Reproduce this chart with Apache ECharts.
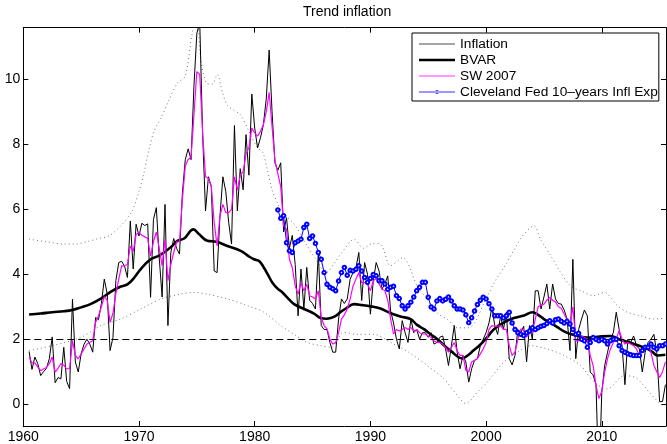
<!DOCTYPE html>
<html>
<head>
<meta charset="utf-8">
<script src="https://cdn.jsdelivr.net/npm/echarts@6/dist/echarts.min.js"></script>
<style>
html,body{margin:0;padding:0;background:#fff;}
#chart{width:667px;height:444px;}
</style>
</head>
<body>
<div id="chart"></div>
<script>
// ---- Data (quarterly series; first observation date given separately) ----
const inflationStart = 1960.5;
const inflation = [
 1.62, 1.07,
 1.45, 1.25, 0.88, 1.0,
 1.1, 1.4, 2.07, 0.66,
 0.82, 0.78, 1.75, 0.7,
 0.48, 3.23, 1.3, 0.99,
 1.55, 1.85, 2.0, 1.85,
 1.6, 2.67, 2.6, 3.1,
 3.85, 3.4, 1.65, 2.05,
 3.8, 4.36, 4.4, 4.25,
 3.9, 5.64, 4.16, 5.54,
 5.18, 5.57, 5.5, 5.55,
 3.29, 5.69, 6.05, 4.5,
 3.3, 6.15, 2.42, 4.67,
 5.1, 4.8, 4.62, 6.5,
 7.53, 7.86, 7.53, 9.8,
 11.42, 11.75, 8.3, 5.95,
 7.0, 6.7, 4.1, 4.05,
 5.8, 7.0, 6.55, 5.6,
 4.93, 8.58, 5.95, 7.25,
 6.6, 8.3, 7.05, 9.55,
 8.5, 7.89, 8.2, 8.6,
 9.4, 10.9, 9.0, 7.43,
 7.2, 7.43, 5.3, 5.74,
 4.8, 5.2, 4.3, 2.72,
 4.16, 2.93, 4.21, 3.2,
 3.1, 2.93, 4.67, 2.42,
 2.3, 2.3, 1.9, 1.6,
 1.6, 2.62, 3.24, 3.1,
 3.24, 3.85, 4.05, 4.2,
 4.67, 3.19, 4.36, 4.0,
 2.77, 3.8, 4.36, 4.1,
 3.54, 3.7, 3.95, 2.87,
 2.5, 2.0, 1.7, 2.57,
 2.2, 1.9, 2.62, 2.2,
 2.3, 2.0, 2.2, 2.2,
 2.06, 2.2, 1.85, 1.9,
 2.06, 2.1, 1.7, 1.19,
 1.8, 2.42, 1.6, 1.09,
 1.5, 1.3, 0.68, 1.09,
 1.35, 1.4, 1.8, 2.0,
 2.2, 2.5, 2.97, 2.42,
 2.15, 2.72, 2.3, 2.83,
 1.4, 1.21, 1.5, 2.3,
 2.2, 2.4, 1.3, 2.42,
 2.0, 3.49, 3.49, 2.93,
 3.3, 3.7, 2.93, 3.7,
 3.24, 3.1, 3.08, 2.9,
 2.62, 1.65, 4.46, 1.4,
 2.3, 2.62, 2.9, 2.72,
 0.99, 0.9, 0.6, -2.5,
 0.37, 1.19, 1.6, 2.0,
 2.2, 2.83, 2.3, 1.8,
 0.6, 2.0, 1.9, 2.1,
 1.8, 1.7, 0.99, 1.6,
 1.9, 2.0, 2.15, 1.6,
 0.08, 0.08, 0.6
];

const sw2007Start = 1960.5;
const sw2007 = [
 1.45, 1.27,
 1.27, 1.15, 1.03, 1.08,
 1.13, 1.25, 1.45, 0.99,
 1.1, 1.25, 1.2, 1.09,
 1.09, 1.95, 1.5, 1.39,
 1.55, 1.7, 1.85, 1.9,
 1.95, 2.52, 2.72, 3.0,
 3.31, 3.2, 2.52, 2.8,
 3.4, 3.85, 4.26, 4.26,
 4.3, 4.87, 4.7, 5.23,
 5.28, 5.2, 5.15, 5.1,
 4.56, 5.0, 5.3, 4.8,
 4.26, 5.08, 3.8, 4.3,
 4.67, 5.0, 5.0, 6.3,
 7.33, 7.53, 7.6, 8.9,
 10.24, 10.15, 8.35, 7.0,
 6.95, 6.7, 5.59, 4.87,
 5.8, 6.15, 5.9, 5.9,
 6.0, 7.0, 6.6, 7.05,
 7.15, 7.7, 7.9, 8.5,
 8.35, 8.25, 8.4, 8.6,
 9.0, 9.6, 8.55, 7.5,
 7.1, 6.7, 5.5, 5.38,
 4.46, 4.2, 3.64, 3.39,
 3.74, 3.49, 3.69, 3.34,
 3.3, 3.24, 3.49, 2.67,
 2.42, 2.32, 2.0, 1.85,
 1.9, 2.2, 2.62, 2.75,
 2.93, 3.24, 3.64, 3.85,
 4.05, 3.74, 3.74, 3.7,
 3.49, 3.8, 3.87, 3.7,
 3.54, 3.5, 3.2, 2.62,
 2.16, 2.3, 2.25, 2.3,
 2.36, 2.3, 2.36, 2.25,
 2.3, 2.2, 2.16, 2.16,
 2.1, 2.06, 1.95, 1.9,
 1.9, 1.85, 1.75, 1.6,
 1.75, 1.9, 1.65, 1.5,
 1.5, 1.04, 0.99, 1.3,
 1.35, 1.4, 1.55, 1.7,
 1.9, 2.3, 2.42, 2.4,
 2.4, 2.42, 2.3, 2.3,
 1.8, 1.5, 1.6, 2.0,
 2.32, 2.27, 2.06, 2.2,
 2.2, 2.62, 3.0, 3.05,
 3.08, 3.2, 3.29, 3.2,
 3.15, 3.0, 2.95, 2.77,
 2.6, 2.4, 3.0, 1.95,
 1.95, 2.1, 2.05, 2.0,
 1.5, 1.19, 0.58, 0.17,
 0.4, 0.99, 1.4, 1.7,
 1.9, 2.0, 2.27, 2.0,
 1.85, 1.9, 1.85, 1.8,
 1.7, 1.5, 1.65, 1.7,
 1.8, 1.6, 1.2, 1.0,
 0.82, 1.0, 1.3
];

const clevelandStart = 1982.0;
const cleveland = [
 5.98, 5.72, 5.8, 4.97,
 4.72, 4.67, 4.97, 5.02,
 5.08, 5.44, 5.54, 5.1,
 5.18, 4.95, 4.67, 4.46,
 4.05, 3.69, 3.6, 3.55,
 3.49, 3.79, 4.05, 4.21,
 3.97, 4.12, 4.1, 4.15,
 4.26, 4.1, 3.9, 3.75,
 3.87, 3.99, 3.95, 3.8,
 3.8, 3.7, 3.54, 3.6,
 3.63, 3.34, 3.25, 3.03,
 2.93, 3.03, 3.14, 3.3,
 3.49, 3.6, 3.75, 3.75,
 3.29, 2.99, 2.93, 3.18,
 3.25, 3.18, 3.23, 3.3,
 3.18, 3.03, 2.93, 2.93,
 2.9, 2.75, 2.51, 2.66,
 2.87, 3.07, 3.2, 3.29,
 3.24, 3.09, 2.93, 2.72,
 2.72, 2.72, 2.65, 2.72,
 2.83, 2.5, 2.3, 2.2,
 2.15, 2.11, 2.2, 2.25,
 2.35, 2.3, 2.35, 2.4,
 2.42, 2.48, 2.57, 2.5,
 2.6, 2.62, 2.55, 2.5,
 2.55, 2.47, 2.3, 2.15,
 2.18, 2.0, 1.95, 1.75,
 1.9, 2.05, 2.0, 1.95,
 2.0, 1.95, 1.85, 1.95,
 2.0, 2.0, 1.8, 1.65,
 1.6, 1.55, 1.52, 1.5,
 1.5, 1.5, 1.65, 1.75,
 1.75, 1.85, 1.75, 1.7,
 1.8, 1.8, 1.85
];

const bvarYears = [1960.5,1961.5,1962.5,1963.5,1964.25,1965,1965.8,1966.7,1967.55,1968.3,1969,1969.6,1970.15,1971,1971.6,1972.16,1972.8,1973.32,1973.9,1974.7,1975.2,1975.9,1976.7,1977.64,1978.79,1979.5,1979.94,1980.4,1980.8,1981.2,1981.53,1982,1982.4,1982.9,1983.4,1984.26,1985.13,1985.7,1986.2,1986.57,1987,1987.43,1987.9,1988.58,1989.3,1990.03,1990.8,1991.75,1992.6,1993.48,1994,1994.63,1995.2,1995.79,1996.4,1996.94,1997.95,1998.4,1998.9,1999.4,1999.82,2000.3,2000.68,2001.55,2002.4,2003.28,2004,2004.5,2005,2005.6,2006.16,2006.7,2007.31,2008.46,2009,2009.8,2010.76,2011.2,2011.6,2012.2,2012.78,2013.4,2013.94,2014.4,2014.8,2015.5];
const bvarValues = [2.76,2.79,2.83,2.86,2.9,2.98,3.08,3.25,3.46,3.6,3.69,3.9,4.16,4.46,4.55,4.67,4.85,5.03,5.1,5.38,5.23,5.03,5.0,4.87,4.72,4.55,4.46,4.4,4.2,3.95,3.74,3.55,3.44,3.25,3.08,2.93,2.79,2.65,2.63,2.65,2.72,2.84,2.95,3.08,3.05,3.01,2.95,2.8,2.7,2.62,2.45,2.31,2.15,2.0,1.8,1.64,1.41,1.5,1.65,1.8,1.95,2.15,2.31,2.52,2.65,2.73,2.83,2.75,2.62,2.5,2.37,2.25,2.16,2.06,2.05,2.08,2.1,2.05,1.98,1.92,1.85,1.78,1.7,1.6,1.5,1.52];

const upperYears = [1960.5,1962,1963.5,1964.5,1965.5,1966.5,1967.4,1968.4,1969.4,1970,1970.4,1970.9,1971.3,1971.9,1972.6,1973.3,1974,1974.6,1975,1975.35,1975.8,1976.3,1976.77,1977.2,1977.64,1978.2,1978.79,1979.5,1980.23,1980.7,1981.1,1981.5,1981.96,1982.4,1983.4,1984.5,1985.3,1986.2,1986.8,1987.6,1988.6,1989.4,1990.2,1990.9,1991.75,1992.8,1994.05,1994.9,1995.8,1996.7,1997.5,1998.4,1999,1999.8,2000.8,2001.7,2002.5,2003.2,2004.14,2004.7,2005.6,2006.45,2007.3,2008.2,2009.3,2010.2,2011.35,2012.2,2013.35,2014.5,2015.5];
const upperValues = [5.08,5.0,4.93,4.93,5.0,5.1,5.18,5.48,5.94,6.55,7.07,7.89,8.4,8.81,9.37,9.88,10.1,11.42,11.8,10.6,9.9,9.85,10.15,9.6,9.2,9.05,8.9,8.4,7.9,7.75,7.2,6.6,6.2,5.9,5.55,4.9,4.45,4.05,4.3,4.7,5.08,4.8,4.95,4.92,4.26,4.51,3.64,3.24,2.8,2.6,2.35,2.35,2.5,3.1,3.8,4.3,4.8,5.2,5.49,5.08,4.56,4.05,3.64,3.49,3.34,3.44,3.03,2.83,2.72,2.62,2.65];

const lowerYears = [1960.5,1962.5,1965,1966.7,1968.4,1970.15,1971.9,1973.6,1974.75,1976,1977.64,1979.4,1980.8,1982.25,1983.4,1984.55,1985.7,1986.6,1987.7,1988.8,1990.3,1991.75,1993.3,1994.9,1996.36,1997.52,1998.24,1999.25,2000.1,2001.55,2002.7,2003.85,2005.3,2006.73,2008.18,2009.33,2010.49,2011.92,2013,2014.22,2015.1,2015.5];
const lowerValues = [1.65,1.8,2.06,2.42,2.62,2.93,3.24,3.39,3.44,3.38,3.24,3.03,2.83,2.42,2.15,1.9,1.8,1.75,2.21,2.15,2.15,1.9,1.6,1.19,0.78,0.27,0.02,0.37,0.68,1.3,1.6,1.8,1.7,1.5,1.19,0.68,0.47,0.88,0.8,0.32,0.0,-0.05];

const xTicks = [1960, 1970, 1980, 1990, 2000, 2010];
const yTicks = [0, 2, 4, 6, 8, 10];
const targetLevel = 2;

// ---- Build series data ----
const quarterly = (start, vals) => vals.map((v, i) => [start + i * 0.25, v]);
const paired = (xs, ys) => xs.map((x, i) => [x, ys[i]]);

const FONT = "'Liberation Sans', Arial, Helvetica, sans-serif";
const chart = echarts.init(document.getElementById('chart'), null, {renderer: 'canvas'});

const axisBase = {
  type: 'value',
  axisLine: {show: true, onZero: false, lineStyle: {color: '#000', width: 1}},
  splitLine: {show: false}
};

const dotted = {color: '#777', width: 1, type: [1, 3]};

// legend icons (box 36 x 14, invisible corner specks fix the bounding box)
const corners = 'M0,0h0.01v0.01h-0.01z M36,14h-0.01v-0.01h0.01z ';
const lineIcon = h => 'path://' + corners + 'M0,' + (7 - h / 2) + 'h36v' + h + 'h-36z';
const markerIcon = 'path://' + corners + 'M0,6.4h36v1.2h-36z M16,7a2,2 0 1,0 4,0a2,2 0 1,0 -4,0z';

const NAME_CLEV = 'Cleveland Fed 10\u2013years Infl Exp';

chart.setOption({
  animation: false,
  backgroundColor: '#fff',
  textStyle: {fontFamily: FONT},
  title: {
    text: 'Trend inflation',
    left: 303, top: 5, padding: 0,
    textStyle: {fontSize: 14, fontWeight: 'normal', color: '#000', fontFamily: FONT}
  },
  grid: {left: 23.3, right: 1, top: 27.7, bottom: 16.5, containLabel: false},
  legend: {
    orient: 'vertical',
    left: 412, top: 33,
    padding: [4, 1, 2, 7],
    itemWidth: 36, itemHeight: 14, itemGap: 2,
    borderColor: '#000', borderWidth: 1, borderRadius: 0,
    backgroundColor: '#fff',
    textStyle: {fontSize: 13.7, color: '#000', fontFamily: FONT},
    data: [
      {name: 'Inflation', icon: lineIcon(1.3), itemStyle: {color: '#888', borderWidth: 0}},
      {name: 'BVAR', icon: lineIcon(2.4), itemStyle: {color: '#000', borderWidth: 0}},
      {name: 'SW 2007', icon: lineIcon(1.4), itemStyle: {color: '#ff77ff', borderWidth: 0}},
      {name: NAME_CLEV, icon: markerIcon, itemStyle: {color: '#3333ff', borderWidth: 0}}
    ]
  },
  xAxis: [
    Object.assign({}, axisBase, {
      position: 'bottom', min: 1960, max: 2015.55,
      axisTick: {show: true, inside: true, length: 5, lineStyle: {color: '#000'}, customValues: xTicks},
      axisLabel: {show: true, color: '#000', fontSize: 14, margin: 4, fontFamily: FONT,
                  customValues: xTicks, formatter: v => String(v)}
    }),
    Object.assign({}, axisBase, {
      position: 'top', min: 1960, max: 2015.55,
      axisTick: {show: true, inside: true, length: 5, lineStyle: {color: '#000'}, customValues: xTicks},
      axisLabel: {show: false}
    })
  ],
  yAxis: [
    Object.assign({}, axisBase, {
      position: 'left', min: -0.672, max: 11.59,
      axisTick: {show: true, inside: true, length: 5, lineStyle: {color: '#000'}, customValues: yTicks},
      axisLabel: {show: true, color: '#000', fontSize: 14, margin: 3, fontFamily: FONT,
                  customValues: yTicks, formatter: v => String(v)}
    }),
    Object.assign({}, axisBase, {
      position: 'right', min: -0.672, max: 11.59,
      axisTick: {show: true, inside: true, length: 5, lineStyle: {color: '#000'}, customValues: yTicks},
      axisLabel: {show: false}
    })
  ],
  series: [
    {
      name: 'upper', type: 'line', data: paired(upperYears, upperValues),
      showSymbol: false, symbol: 'none', smooth: 0.3,
      lineStyle: dotted, silent: true, z: 1
    },
    {
      name: 'lower', type: 'line', data: paired(lowerYears, lowerValues),
      showSymbol: false, symbol: 'none', smooth: 0.3,
      lineStyle: dotted, silent: true, z: 1
    },
    {
      name: 'Inflation', type: 'line', data: quarterly(inflationStart, inflation),
      symbol: 'none', showSymbol: false,
      itemStyle: {color: '#000'},
      lineStyle: {color: '#000', width: 1}, z: 2,
      markLine: {
        silent: true, symbol: 'none', label: {show: false},
        lineStyle: {color: '#000', width: 1, type: [7, 4]},
        data: [{yAxis: targetLevel}]
      }
    },
    {
      name: 'BVAR', type: 'line', data: paired(bvarYears, bvarValues),
      symbol: 'none', showSymbol: false, smooth: 0.4,
      itemStyle: {color: '#000'},
      lineStyle: {color: '#000', width: 2.6}, z: 3
    },
    {
      name: 'SW 2007', type: 'line', data: quarterly(sw2007Start, sw2007),
      symbol: 'none', showSymbol: false,
      itemStyle: {color: '#ff00ff'},
      lineStyle: {color: '#ff00ff', width: 1.2}, z: 4
    },
    {
      name: NAME_CLEV, type: 'line', data: quarterly(clevelandStart, cleveland),
      symbol: 'emptyCircle', symbolSize: 3.5, showSymbol: true,
      itemStyle: {color: '#0000ff', borderColor: '#0000ff', borderWidth: 1},
      lineStyle: {color: '#0000ff', width: 1}, z: 5
    }
  ]
});
</script>
</body>
</html>
